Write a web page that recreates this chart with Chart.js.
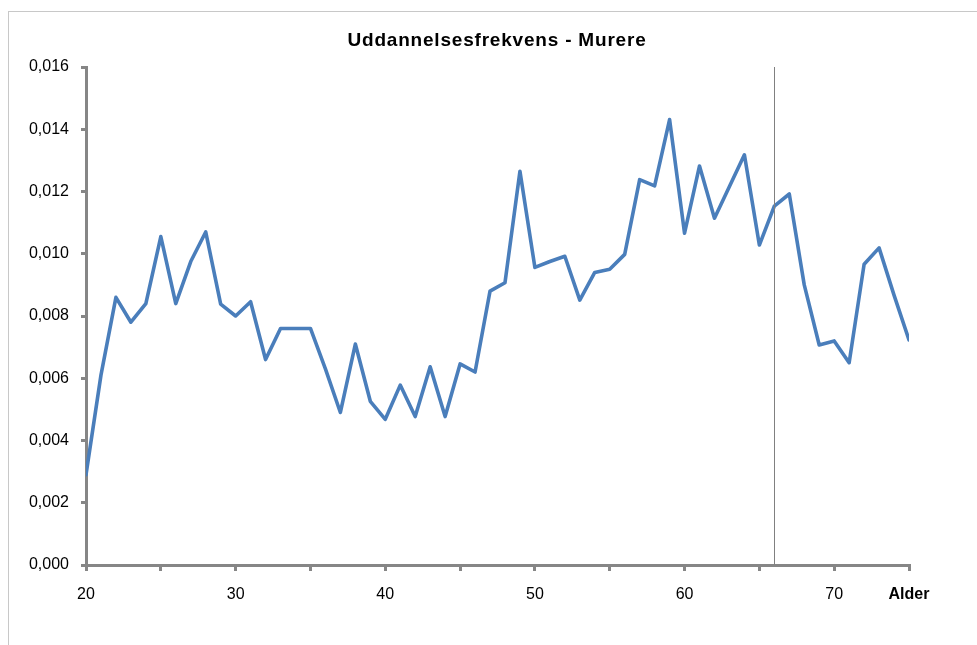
<!DOCTYPE html>
<html>
<head>
<meta charset="utf-8">
<script src="https://cdn.jsdelivr.net/npm/chart.js@4"></script>
<style>
  html, body { margin: 0; padding: 0; background: #fff; }
  #wrap { position: relative; width: 977px; height: 645px; overflow: hidden; }
  #frame { position: absolute; left: 8px; top: 11px; width: 1000px; height: 700px; border: 1px solid #c8c8c8; }
  #chart { position: absolute; left: 0; top: 0; }
</style>
</head>
<body>
<div id="wrap">
  <div id="frame"></div>
  <canvas id="chart" width="977" height="645"></canvas>
</div>
<script>
// alder og frekvens
const ages = [20, 21, 22, 23, 24, 25, 26, 27, 28, 29, 30, 31, 32, 33, 34, 35, 36, 37, 38, 39,
  40, 41, 42, 43, 44, 45, 46, 47, 48, 49, 50, 51, 52, 53, 54, 55, 56, 57, 58, 59,
  60, 61, 62, 63, 64, 65, 66, 67, 68, 69, 70, 71, 72, 73, 74, 75];
const frekvens = [0.0029, 0.0061, 0.0086, 0.0078, 0.0084, 0.01055, 0.0084, 0.00975, 0.0107, 0.00838,
  0.0080, 0.00846, 0.0066, 0.0076, 0.0076, 0.0076, 0.0063, 0.0049, 0.0071, 0.00526,
  0.00468, 0.00578, 0.00477, 0.00637, 0.00477, 0.00646, 0.0062, 0.0088, 0.00907, 0.01265,
  0.00956, 0.00975, 0.00992, 0.00851, 0.0094, 0.0095, 0.00998, 0.01238, 0.01218, 0.01431,
  0.01066, 0.01282, 0.01114, 0.01216, 0.01318, 0.01028, 0.01153, 0.01192, 0.0090, 0.00707,
  0.0072, 0.0065, 0.00966, 0.01019, 0.00867, 0.00723];
const xTickLabels = { 20: '20', 30: '30', 40: '40', 50: '50', 60: '60', 70: '70', 75: 'Alder' };
const titleText = 'Uddannelsesfrekvens - Murere';
const markerAge = 66;

const fontFam = "'Liberation Sans', Arial, sans-serif";
const axisGrey = '#868686';

// titel og lodret linje ved 66 aar
const extras = {
  id: 'extras',
  afterDatasetsDraw(chart) {
    const { ctx, chartArea, scales } = chart;
    const x = Math.round(scales.x.getPixelForValue(markerAge)) + 0.5;
    ctx.save();
    ctx.strokeStyle = '#808080';
    ctx.lineWidth = 1;
    ctx.beginPath();
    ctx.moveTo(x, chartArea.top);
    ctx.lineTo(x, chartArea.bottom);
    ctx.stroke();

    ctx.fillStyle = '#000';
    ctx.font = 'bold 19px ' + fontFam;
    if ('letterSpacing' in ctx) ctx.letterSpacing = '0.8px';
    ctx.textAlign = 'center';
    ctx.textBaseline = 'alphabetic';
    ctx.fillText(titleText, 497, 46);
    ctx.restore();
  }
};

const ctx = document.getElementById('chart').getContext('2d');
new Chart(ctx, {
  type: 'line',
  data: {
    datasets: [{
      data: ages.map((a, i) => ({ x: a, y: frekvens[i] })),
      borderColor: '#4a7ebb',
      borderWidth: 3.6,
      borderJoinStyle: 'round',
      borderCapStyle: 'round',
      pointRadius: 0,
      tension: 0,
      fill: false
    }]
  },
  options: {
    responsive: false,
    animation: false,
    layout: { padding: { left: 0, right: 68, top: 67, bottom: 0 } },
    plugins: {
      legend: { display: false },
      tooltip: { enabled: false },
      title: { display: false }
    },
    scales: {
      x: {
        type: 'linear',
        min: 20,
        max: 75,
        afterBuildTicks(scale) {
          scale.ticks = [];
          for (let v = 20; v <= 75; v += 5) scale.ticks.push({ value: v });
        },
        afterFit(scale) { scale.height = 80; },
        ticks: {
          autoSkip: false,
          maxRotation: 0,
          padding: 14,
          color: '#000',
          font: (c) => ({ family: fontFam, size: 16, weight: c.tick && c.tick.value === 75 ? 'bold' : 'normal' }),
          callback: (v) => xTickLabels[v] || ''
        },
        grid: { display: true, drawOnChartArea: false, drawTicks: true, tickLength: 6, color: axisGrey, lineWidth: 3 },
        border: { display: true, color: axisGrey, width: 3 }
      },
      y: {
        min: 0,
        max: 0.016,
        afterFit(scale) { scale.width = 86; },
        ticks: {
          stepSize: 0.002,
          padding: 12,
          color: '#000',
          font: { family: fontFam, size: 16 },
          callback: (v) => v.toFixed(3).replace('.', ',')
        },
        grid: { display: true, drawOnChartArea: false, drawTicks: true, tickLength: 5, color: axisGrey, lineWidth: 3 },
        border: { display: true, color: axisGrey, width: 3 }
      }
    }
  },
  plugins: [extras]
});
</script>
</body>
</html>
